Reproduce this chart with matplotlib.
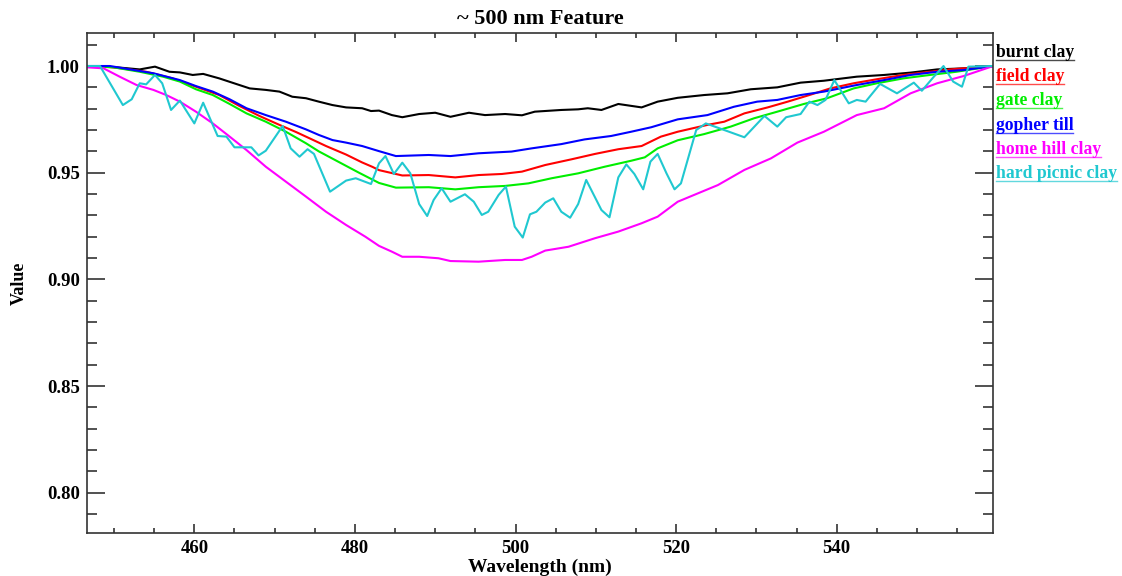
import matplotlib
matplotlib.use("Agg")
import matplotlib.pyplot as plt
from matplotlib.ticker import MultipleLocator, FormatStrFormatter
from matplotlib.lines import Line2D

plt.rcParams['font.family'] = ['Liberation Serif', 'DejaVu Serif']
plt.rcParams['font.weight'] = 'bold'

# spectra, (wavelength nm, value) per sample
burnt_wl = [446.6, 450.3, 453.2, 455.1, 456.9, 458.2, 459.8, 461.1, 463.1, 465.2, 466.9,
            468.9, 470.6, 472.2, 473.9, 475.5, 477.2, 478.9, 480.9, 482.0, 483.0, 484.6,
            485.9, 488.0, 490.0, 491.9, 494.2, 496.2, 498.7, 500.8, 502.4, 505.7, 507.8,
            509.0, 510.7, 512.8, 515.7, 517.7, 520.2, 523.5, 526.4, 529.3, 532.6, 535.5,
            538.4, 542.5, 545.9, 549.2, 552.5, 555.8, 559.5]
burnt_val = [1.000, .9994, .9984, .9997, .9973, .9970, .9958, .9963, .9942, .9916, .9895,
             .9888, .9880, .9856, .9849, .9833, .9817, .9806, .9802, .9789, .9791, .9770,
             .9760, .9775, .9781, .9762, .9781, .9770, .9775, .9769, .9786, .9794, .9797,
             .9802, .9794, .9822, .9806, .9833, .9851, .9864, .9872, .9891, .9900, .9922,
             .9931, .9950, .9958, .9969, .9984, .9989, 1.000]

field_wl = [446.6, 449.9, 454.0, 457.3, 460.2, 463.1, 465.6, 468.1, 470.6, 472.7, 474.7,
            476.4, 478.9, 480.9, 482.2, 483.0, 485.9, 489.2, 492.5, 495.4, 498.3, 500.8,
            503.7, 507.0, 509.9, 512.8, 515.7, 518.1, 520.2, 523.9, 526.0, 528.5, 531.4,
            533.9, 536.6, 539.2, 542.1, 545.0, 548.3, 551.6, 554.1, 559.5]
field_val = [1.000, .9994, .9973, .9942, .9903, .9864, .9813, .9766, .9724, .9690, .9655,
             .9625, .9585, .9548, .9527, .9512, .9487, .9489, .9478, .9489, .9494, .9505,
             .9536, .9563, .9588, .9610, .9625, .9669, .9692, .9724, .9739, .9778, .9806,
             .9833, .9864, .9895, .9919, .9938, .9958, .9973, .9984, 1.000]

gate_wl = [446.6, 449.9, 453.2, 456.1, 458.2, 460.2, 462.3, 464.4, 466.5, 468.9, 471.4,
           473.9, 475.5, 478.0, 480.5, 483.0, 485.1, 489.2, 492.5, 495.4, 498.7, 501.6,
           504.5, 507.8, 511.1, 514.4, 516.1, 517.7, 520.2, 523.5, 526.8, 529.7, 532.6,
           535.9, 538.8, 542.1, 545.0, 548.3, 551.6, 554.9, 559.5]
gate_val = [1.000, .9994, .9973, .9950, .9927, .9891, .9864, .9822, .9778, .9739, .9692,
            .9638, .9600, .9550, .9500, .9452, .9430, .9432, .9422, .9432, .9438, .9450,
            .9474, .9497, .9528, .9556, .9572, .9614, .9652, .9681, .9716, .9755, .9786,
            .9822, .9849, .9895, .9919, .9942, .9958, .9973, 1.000]

gopher_wl = [446.6, 449.5, 452.0, 454.9, 458.2, 460.2, 462.3, 464.4, 466.5, 468.9, 471.4,
             473.9, 475.5, 477.2, 478.9, 480.9, 483.0, 485.1, 489.2, 491.9, 495.4, 499.5,
             502.0, 505.7, 508.6, 511.9, 514.4, 516.9, 520.2, 523.9, 527.2, 530.1, 532.6,
             535.5, 538.4, 542.5, 545.9, 549.2, 552.5, 555.8, 559.5]
gopher_val = [1.000, 1.000, .9984, .9966, .9934, .9906, .9880, .9844, .9802, .9770, .9739,
              .9703, .9677, .9653, .9641, .9625, .9601, .9578, .9583, .9578, .9591, .9599,
              .9614, .9634, .9656, .9672, .9692, .9713, .9750, .9770, .9809, .9833, .9841,
              .9864, .9880, .9911, .9934, .9958, .9973, .9981, 1.000]

home_wl = [446.6, 448.7, 450.7, 452.8, 454.9, 456.5, 458.2, 460.2, 462.3, 464.4, 466.5,
           468.9, 471.4, 473.9, 476.4, 478.9, 481.3, 483.0, 484.6, 485.9, 488.0, 490.4,
           491.9, 495.4, 498.7, 500.8, 502.0, 503.7, 506.6, 509.9, 512.8, 515.7, 517.7,
           520.2, 522.7, 525.2, 528.5, 531.8, 535.1, 538.4, 542.5, 545.9, 549.2, 552.5,
           555.8, 559.5]
home_val = [.9994, .9989, .9950, .9911, .9888, .9864, .9833, .9786, .9731, .9669, .9606,
            .9528, .9458, .9388, .9317, .9255, .9200, .9157, .9130, .9106, .9106, .9099,
            .9086, .9083, .9091, .9091, .9106, .9135, .9153, .9193, .9224, .9263, .9294,
            .9364, .9403, .9442, .9513, .9567, .9641, .9692, .9770, .9802, .9872, .9919,
            .9953, 1.000]

picnic_wl = [446.6, 448.25, 451.1, 452.2, 453.2, 454.0, 455.1, 456.0, 457.1, 458.2, 460.0,
             461.1, 462.9, 464.0, 465.0, 467.1, 468.0, 468.9, 471.0, 472.0, 473.1, 474.1,
             474.9, 476.9, 478.9, 480.1, 482.0, 483.0, 483.8, 484.85, 485.9, 486.9, 488.0,
             489.0, 489.8, 490.8, 491.9, 493.7, 494.8, 495.8, 496.6, 497.9, 498.8, 499.9,
             500.9, 501.8, 502.6, 503.7, 504.7, 505.7, 506.8, 507.8, 508.8, 510.7, 511.7,
             512.8, 513.8, 514.8, 515.9, 516.8, 517.7, 518.8, 519.8, 520.6, 522.5, 523.7,
             528.5, 531.0, 532.6, 533.7, 535.5, 536.6, 537.6, 538.6, 539.7, 541.5, 542.5,
             543.6, 545.4, 547.5, 549.6, 550.6, 552.1, 553.3, 554.5, 555.6, 556.4, 559.5]
picnic_val = [1.000, 1.000, .9817, .9844, .9919, .9914, .9958, .9919, .9794, .9838, .9731,
              .9828, .9672, .9669, .9619, .9619, .9581, .9603, .9719, .9614, .9575, .9610,
              .9588, .9411, .9463, .9474, .9447, .9544, .9578, .9494, .9547, .9497, .9353,
              .9297, .9372, .9427, .9364, .9399, .9364, .9302, .9317, .9396, .9435, .9247,
              .9196, .9305, .9317, .9360, .9380, .9317, .9289, .9353, .9466, .9325, .9291,
              .9478, .9539, .9494, .9422, .9552, .9588, .9497, .9422, .9450, .9700, .9731,
              .9666, .9766, .9716, .9760, .9775, .9833, .9817, .9841, .9934, .9825, .9841,
              .9833, .9916, .9872, .9922, .9884, .9950, 1.000, .9927, .9903, .9997, 1.000]

names = ["burnt clay", "field clay", "gate clay", "gopher till", "home hill clay", "hard picnic clay"]
colors = ["black", "#ff0000", "#00ee00", "#0000ff", "#ff00ff", "#20c8d0"]
series = [(burnt_wl, burnt_val), (field_wl, field_val), (gate_wl, gate_val),
          (gopher_wl, gopher_val), (home_wl, home_val), (picnic_wl, picnic_val)]

fig = plt.figure(figsize=(11.22, 5.76), dpi=100)
ax = fig.add_axes([0.0773, 0.0741, 0.8080, 0.8691])

for (wl, val), c in zip(series, colors):
    ax.plot(wl, val, color=c, lw=1.5)

ax.set_xlim(446.6, 559.5)
ax.set_ylim(0.781, 1.0156)
ax.xaxis.set_major_locator(MultipleLocator(20))
ax.xaxis.set_minor_locator(MultipleLocator(5))
ax.yaxis.set_major_locator(MultipleLocator(0.05))
ax.yaxis.set_minor_locator(MultipleLocator(0.01))
ax.yaxis.set_major_formatter(FormatStrFormatter('%.2f'))
ax.tick_params(which='both', direction='in', top=True, right=True, labelsize=13.5,
               width=1.2, color='#333333')
ax.tick_params(axis='y', which='major', length=13, pad=5)
ax.tick_params(axis='y', which='minor', length=7)
ax.tick_params(axis='x', which='major', length=6.7, pad=5)
ax.tick_params(axis='x', which='minor', length=3.6)
for lab in ax.get_xticklabels() + ax.get_yticklabels():
    lab.set_fontweight('bold')
for s in ax.spines.values():
    s.set_linewidth(1.2)
    s.set_color('#333333')

ax.set_title("~ 500 nm Feature", fontsize=16, fontweight='bold', pad=6)
ax.set_xlabel("Wavelength (nm)", fontsize=14, fontweight='bold', labelpad=1)
ax.set_ylabel("Value", fontsize=13, fontweight='bold', labelpad=14)

# legend: coloured, underlined names to the right of the plot
fig.canvas.draw()
renderer = fig.canvas.get_renderer()
W, H = fig.bbox.width, fig.bbox.height
for i, (name, c) in enumerate(zip(names, colors)):
    y_base = 56.7 + i * 24.3
    t = fig.text(995.7 / W, 1 - y_base / H, name, color=c, fontsize=12.7,
                 fontweight='bold', ha='left', va='baseline')
    bb = t.get_window_extent(renderer)
    yl = 1 - (y_base + 3) / H
    fig.add_artist(Line2D([bb.x0 / W, bb.x1 / W], [yl, yl], color=c, lw=1.0,
                          alpha=0.7, transform=fig.transFigure))

fig.savefig("out.png", dpi=100)
